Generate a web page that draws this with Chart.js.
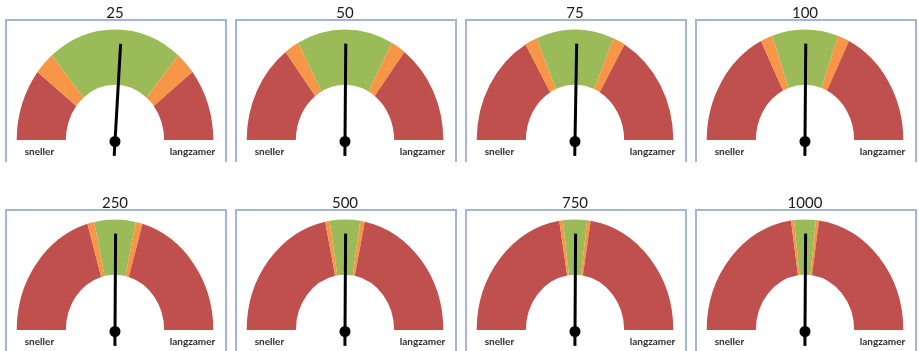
<!DOCTYPE html>
<html><head><meta charset="utf-8">
<script src="https://cdn.jsdelivr.net/npm/chart.js@4.4.0/dist/chart.umd.min.js"></script>
<style>
html,body{margin:0;padding:0;background:#fff;overflow:hidden;width:919px;height:351px;}
#wrap{position:relative;width:919px;height:351px;overflow:hidden;}
.box{position:absolute;border:2px solid #A3B5D6;border-bottom:none;box-sizing:border-box;}
canvas{position:absolute;}
</style></head><body><div id="wrap"></div>
<script>
// Gauge titles (sample sizes)
const gaugeTitles = ['25', '50', '75', '100', '250', '500', '750', '1000'];
// Segment sizes on a 0..180 scale (left red, orange, green, orange, right red)
const redSide    = [38, 52.8, 59.8, 63.4, 73.7, 78.4, 80.8, 81.8];
const orangeSide = [12, 8.7, 7.2, 7.0, 4.1, 2.6, 2.1, 1.8];
const greenBand  = [80, 57, 46, 39.2, 24.4, 18, 14.2, 12.8];
// Needle position on the same 0..180 scale
const needleValue = [93.7, 90.5, 91.1, 90.5, 90.4, 90.4, 90.4, 90.4];
const leftLabel = 'sneller';
const rightLabel = 'langzamer';

const segmentColors = ['#C0504D', '#F79646', '#9BBB59', '#F79646', '#C0504D'];
const STRETCH = 1.125;

const gaugePlugin = {
  id: 'gauge',
  beforeDatasetsDraw(chart) {
    const arc = chart.getDatasetMeta(0).data[0];
    const ctx = chart.ctx;
    ctx.save();
    ctx.translate(arc.x, arc.y);
    ctx.scale(1, STRETCH);
    ctx.translate(-arc.x, -arc.y);
  },
  afterDatasetsDraw(chart, args, opts) {
    const ctx = chart.ctx;
    ctx.restore();
    const meta = chart.getDatasetMeta(0);
    const first = meta.data[0], last = meta.data[meta.data.length - 1];
    const total = chart.data.datasets[0].data.reduce((a, b) => a + b, 0);
    const a = first.startAngle + (last.endAngle - first.startAngle) * opts.value / total;
    const R = first.outerRadius;
    const cx = first.x, cy = first.y + 1.5;
    const tipX = cx + Math.cos(a) * R * 0.885, tipY = cy + Math.sin(a) * R * 0.885 * STRETCH;
    const tailX = cx - Math.cos(a) * R * 0.13, tailY = cy - Math.sin(a) * R * 0.13 * STRETCH;
    ctx.save();
    ctx.strokeStyle = '#000';
    ctx.lineWidth = 3;
    ctx.beginPath(); ctx.moveTo(tailX, tailY); ctx.lineTo(tipX, tipY); ctx.stroke();
    ctx.beginPath(); ctx.arc(cx, cy, 5.5, 0, Math.PI * 2); ctx.fillStyle = '#000'; ctx.fill();
    ctx.font = 'bold 10px Lato';
    ctx.fillStyle = '#2e2e2e';
    ctx.textBaseline = 'middle';
    ctx.textAlign = 'left';
    ctx.fillText(opts.left, chart.chartArea.left + 8, first.y + 12);
    ctx.textAlign = 'right';
    ctx.fillText(opts.right, chart.chartArea.right + 2, first.y + 12);
    ctx.restore();
  }
};

const wrap = document.getElementById('wrap');
gaugeTitles.forEach((title, i) => {
  const c = i % 4, r = Math.floor(i / 4);
  const box = document.createElement('div');
  box.className = 'box';
  box.style.left = (230 * c + 5) + 'px';
  box.style.top = (190 * r + 19) + 'px';
  box.style.width = '222px';
  box.style.height = r === 0 ? '143px' : '160px';
  wrap.appendChild(box);

  const cv = document.createElement('canvas');
  cv.width = 230; cv.height = 190;
  cv.style.left = (230 * c) + 'px';
  cv.style.top = (190 * r) + 'px';
  cv.style.width = '230px'; cv.style.height = '190px';
  wrap.appendChild(cv);

  new Chart(cv, {
    type: 'doughnut',
    data: {
      labels: ['rood', 'oranje', 'groen', 'oranje', 'rood'],
      datasets: [{
        data: [redSide[i], orangeSide[i], greenBand[i], orangeSide[i], redSide[i]],
        backgroundColor: segmentColors,
        borderWidth: 0,
        clip: false
      }]
    },
    options: {
      responsive: false,
      animation: false,
      devicePixelRatio: 1,
      rotation: -90,
      circumference: 180,
      cutout: '50%',
      layout: { padding: { left: 16.7, right: 16.7, top: 0, bottom: 50 } },
      plugins: {
        legend: { display: false },
        tooltip: { enabled: false },
        title: {
          display: true,
          text: title,
          color: '#1a1a1a',
          font: { family: 'Lato', size: 15, weight: 'normal', lineHeight: 1.2 },
          padding: { top: 4, bottom: 19.7 }
        },
        gauge: { value: needleValue[i], left: leftLabel, right: rightLabel }
      }
    },
    plugins: [gaugePlugin]
  });
});
</script>
</body></html>
